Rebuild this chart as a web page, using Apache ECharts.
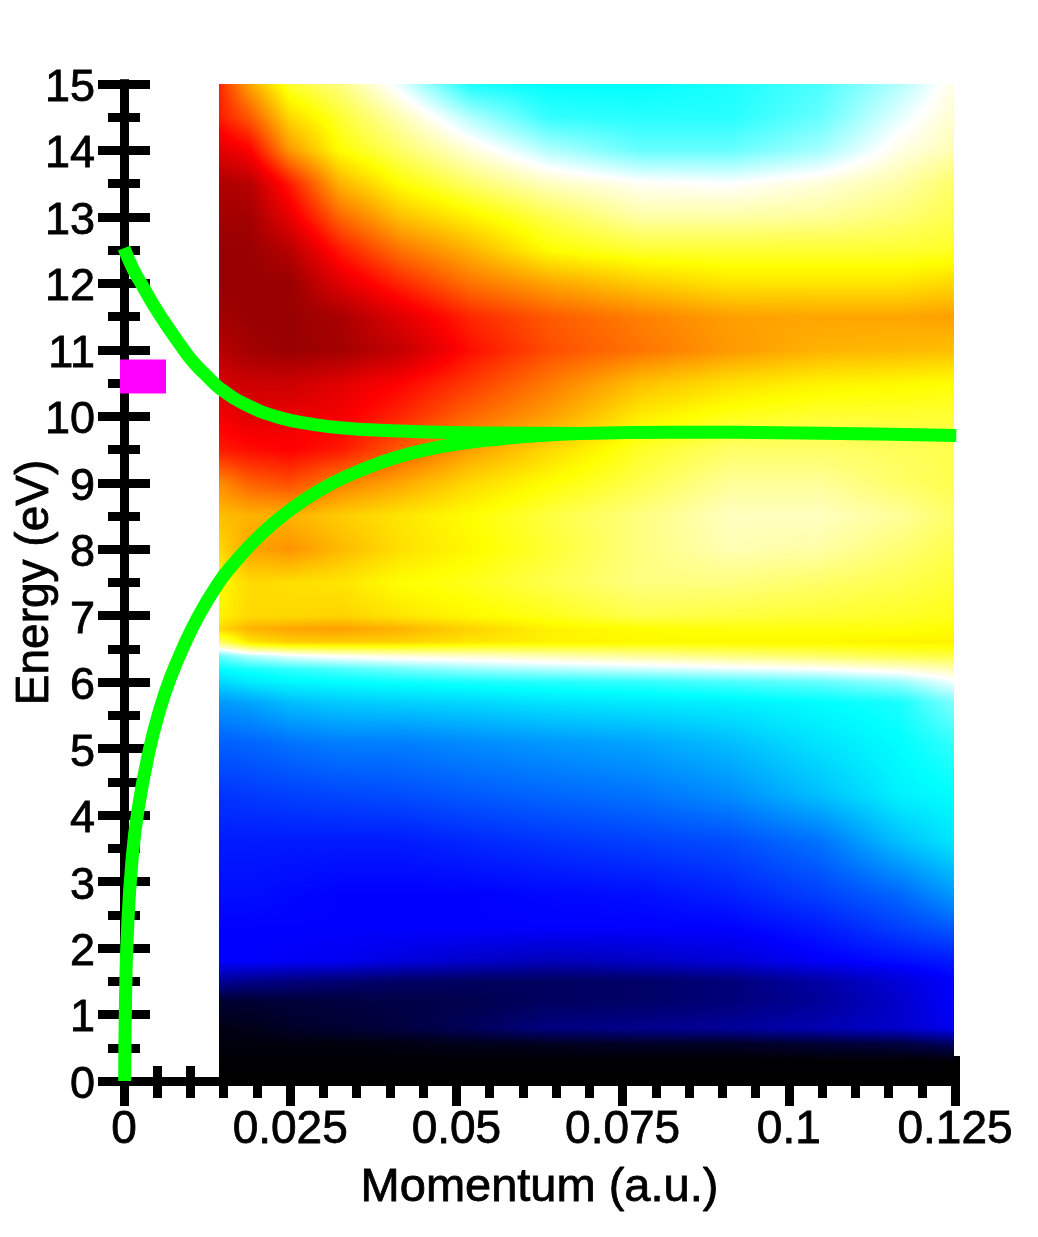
<!DOCTYPE html>
<html>
<head>
<meta charset="utf-8">
<style>html,body{margin:0;padding:0;background:#fff}#c{width:1038px;height:1237px}</style>
<script src="https://cdn.jsdelivr.net/npm/echarts@6/dist/echarts.min.js"></script>
</head>
<body>
<div id="c"></div>
<script>
// Momentum (a.u.) of the intensity columns
var momentumNodes = [0.0143,0.019,0.025,0.0325,0.0415,0.052,0.064,0.0776,0.0912,0.1047,0.1167,0.1249];
// Energy (eV) of the intensity rows, top to bottom
var energyNodes = [15,14.5,14,13.5,13,12.5,12,11.5,11,10.5,10,9.5,9,8.5,8,7.5,7,6.8,6.6,6.4,6.2,6,5.7,5.1,4.3,3.6,2.8,2.3,1.8,1.5,1.2,0.8,0.55,0.3,0,-0.07];
// Intensity, position on the colour scale 0-90
var intensityRows = [
[77,67,58,55,49,41,40,40,41,43,47,51],
[78,73,63,58,53,47,42,41.5,41.5,44,49,52],
[83,80,68,60,56,51.5,47,44,44,46.5,51,53],
[88,87,78,66,60,56,52.5,50.5,50,51.5,53.5,56],
[89,89,82,72,65,61,57,53.5,53.5,54,55.5,57],
[90,90,87,78,71,66,60,58,58,58,58,58.5],
[90,90,90,83,77,71,67,64,62,62,62,63],
[89,90,90,88.5,83,77,73,70,67.5,67,67,67.5],
[87,89,90,89,86,79,74,71,68,66,65.5,65],
[84,85,85,83,80,75.5,70.5,65,62.5,61,60.5,60],
[81,83,82,81,77,72,67.5,61.5,59,58,58,58],
[78,79,80,78,73,67.5,63,58.5,56,56,56.5,57],
[69,72.5,74,70,67,63,60,57,54,54,56,57],
[65,66,66,64,62,60,57.5,55,52.5,52.5,54,56],
[63,67,68.5,65.5,62.5,60.5,58,55,53,53.5,55.5,57],
[60,63,62.5,62,60,59,57,55,55,56,57,58],
[61,63,63,63.5,62,60.5,59,57,57.5,58,58.5,59],
[63,66,67,67.5,66,63.5,61,60,59.5,59.5,59.5,60],
[56,62,64,64,63.5,62,61,60.5,60.5,60.5,61,61],
[44,47,49,50.5,51.5,52,53,54,55,56,57,57.5],
[40,41,42,43,44.5,46,47,48,49,50,51.5,53],
[37,38.5,39.5,40,40.5,41,41.5,42,43,44,46,49.5],
[32,33,35,36,36.5,37,38,38.5,39,40,41,45],
[27.5,28,29,30,30,31,32,33,35,38,40,42],
[24,24.5,25,25.5,26,27,28,29,31,35,39,40],
[22,22,22,22,22,23,24,25,26,29,35,38],
[21,21,20.5,20,20,20,20.5,21,22.5,25,28,32],
[20,20,20,20,20,20,20,20,20,22,25,27],
[20,20,19.5,19,17.5,16,14.5,15.5,17,19.5,21,22],
[12,11,10,9,8,7.5,7.5,8,9.5,13,17,20],
[4,4,4.5,5,5.5,6,7.5,8,9.5,12,16,20],
[1.5,2,3,4,5,7,10,11,12,14,16,19],
[1,1,1,1,1.5,2,2.5,3,3,4,5,7.5],
[0.3,0.3,0.3,0.3,0.3,0.3,0.3,0.3,0.3,0.3,0.3,0.3],
[0,0,0,0,0,0,0,0,0,0,0,0],
[0,0,0,0,0,0,0,0,0,0,0,0]
];
// Colour scale: stop position and colour
var scaleStops = [0,20,40,50,60,80,90];
var scaleColors = [[0,0,0],[0,0,255],[0,255,255],[255,255,255],[255,255,0],[255,0,0],[153,0,0]];
// Dispersion branches, [momentum, energy]
var lowerBranch = [[0.0001,0],[0.00023,1.22],[0.00053,2.27],[0.0012,3.32],[0.00211,4.08],[0.00376,4.96],[0.00542,5.6],[0.00692,6.05],[0.00902,6.55],[0.01128,7.01],[0.01414,7.48],[0.01594,7.72],[0.02046,8.21],[0.02497,8.59],[0.02948,8.89],[0.034,9.12],[0.03851,9.3],[0.04302,9.44],[0.04753,9.54],[0.05205,9.61],[0.05656,9.66],[0.06107,9.7],[0.06859,9.74],[0.08258,9.76],[0.1017,9.75],[0.1252,9.71]];
var upperBranch = [[0,12.53],[0.00135,12.22],[0.00286,11.95],[0.00466,11.64],[0.00647,11.36],[0.00842,11.08],[0.01038,10.82],[0.01233,10.62],[0.01444,10.42],[0.0185,10.17],[0.02347,9.98],[0.02843,9.88],[0.03354,9.82],[0.03851,9.79],[0.04347,9.77],[0.05355,9.75],[0.06859,9.74]];
// Single marker
var markerPoint = [[0.00286,10.6]];

var FONT = '"Liberation Sans", Arial, sans-serif';

function colourAt(v){
  var n = scaleStops.length;
  if (v <= scaleStops[0]) return scaleColors[0];
  for (var i = 1; i < n; i++) {
    if (v <= scaleStops[i]) {
      var t = (v - scaleStops[i-1]) / (scaleStops[i] - scaleStops[i-1]);
      var a = scaleColors[i-1], b = scaleColors[i];
      return [a[0]+(b[0]-a[0])*t, a[1]+(b[1]-a[1])*t, a[2]+(b[2]-a[2])*t];
    }
  }
  return scaleColors[n-1];
}

// One item per cell: x0,y0,x1,y1 and the four corner intensities
var cells = [];
for (var r = 0; r < energyNodes.length - 1; r++) {
  for (var c = 0; c < momentumNodes.length - 1; c++) {
    cells.push([momentumNodes[c], energyNodes[r], momentumNodes[c+1], energyNodes[r+1],
      intensityRows[r][c], intensityRows[r][c+1], intensityRows[r+1][c], intensityRows[r+1][c+1]]);
  }
}

function renderCell(params, api){
  var p0 = api.coord([api.value(0), api.value(1)]);
  var p1 = api.coord([api.value(2), api.value(3)]);
  var x0 = Math.round(p0[0]), y0 = Math.round(p0[1]), x1 = Math.round(p1[0]), y1 = Math.round(p1[1]);
  var w = x1 - x0, h = y1 - y0;
  if (w <= 0 || h <= 0) return null;
  var a = api.value(4), b = api.value(5), d = api.value(6), e = api.value(7);
  var cv = document.createElement('canvas');
  cv.width = w; cv.height = h;
  var ctx = cv.getContext('2d');
  var img = ctx.createImageData(w, h);
  for (var j = 0; j < h; j++) {
    var ty = (j + 0.5) / h;
    for (var i = 0; i < w; i++) {
      var tx = (i + 0.5) / w;
      var v = (a*(1-tx)+b*tx)*(1-ty) + (d*(1-tx)+e*tx)*ty;
      var col = colourAt(v), k = (j*w+i)*4;
      img.data[k] = col[0]; img.data[k+1] = col[1]; img.data[k+2] = col[2]; img.data[k+3] = 255;
    }
  }
  ctx.putImageData(img, 0, 0);
  return {type:'image', silent:true, style:{image:cv, x:x0, y:y0, width:w, height:h}};
}

var AXW = 9;
var TEXT_EDGE = {textBorderColor:'#000', textBorderWidth:0.8};
function xAxisOf(inside, visibleLabels, tickLen, minorLen){
  return {
    type:'value', min:0, max:0.125, interval:0.025, position:'bottom',
    name: visibleLabels ? 'Momentum (a.u.)' : '', nameLocation:'middle', nameGap:84, nameMoveOverlap:false,
    nameTextStyle:Object.assign({fontFamily:FONT,fontSize:47,color:'#000'},TEXT_EDGE),
    axisLine:{show:true,onZero:false,lineStyle:{color:'#000',width:AXW,cap:'square'}},
    axisTick:{show:true,inside:inside,length:tickLen,lineStyle:{color:'#000',width:AXW}},
    minorTick:{show:true,splitNumber:5,length:minorLen,lineStyle:{color:'#000',width:AXW}},
    axisLabel:Object.assign({show:visibleLabels,margin:26,fontFamily:FONT,fontSize:46,color:'#000',showMinLabel:true,showMaxLabel:true,hideOverlap:false},TEXT_EDGE),
    splitLine:{show:false},minorSplitLine:{show:false}
  };
}
function yAxisOf(inside, visibleLabels, tickLen, minorLen){
  return {
    type:'value', min:0, max:15, interval:1, position:'left',
    name: visibleLabels ? 'Energy (eV)' : '', nameLocation:'middle', nameGap:66, nameMoveOverlap:false,
    nameTextStyle:Object.assign({fontFamily:FONT,fontSize:46,color:'#000'},TEXT_EDGE),
    axisLine:{show:true,onZero:false,lineStyle:{color:'#000',width:AXW,cap:'square'}},
    axisTick:{show:true,inside:inside,length:tickLen,lineStyle:{color:'#000',width:AXW}},
    minorTick:{show:true,splitNumber:2,length:minorLen,lineStyle:{color:'#000',width:AXW}},
    axisLabel:{show:visibleLabels,margin:29,formatter:'{t|{value}}',hideOverlap:false,showMinLabel:true,showMaxLabel:true,
      rich:{t:Object.assign({fontFamily:FONT,fontSize:45,color:'#000',padding:[9,0,0,0]},TEXT_EDGE)}},
    splitLine:{show:false},minorSplitLine:{show:false}
  };
}

var chart = echarts.init(document.getElementById('c'), null, {renderer:'canvas'});
chart.setOption({
  animation:false,
  backgroundColor:'#fff',
  grid:{left:124,top:84,width:831,height:997,containLabel:false,outerBoundsMode:'none'},
  xAxis:[xAxisOf(false,true,25,17), xAxisOf(true,false,25,15)],
  yAxis:[yAxisOf(false,true,26,16), yAxisOf(true,false,26,16)],
  series:[
    {type:'custom', name:'Intensity', coordinateSystem:'cartesian2d', data:cells,
     encode:{x:[0,2],y:[1,3]}, renderItem:renderCell, clip:false, z:3, silent:true},
    {type:'scatter', name:'Marker', data:markerPoint, symbol:'rect', symbolSize:[46,34],
     itemStyle:{color:'#ff00ff',opacity:1}, clip:false, z:4, silent:true},
    {type:'line', name:'Lower branch', data:lowerBranch, smooth:0.5, showSymbol:false, clip:false,
     lineStyle:{color:'#00ff00',width:13,cap:'butt'}, z:5, silent:true},
    {type:'line', name:'Upper branch', data:upperBranch, smooth:0.5, showSymbol:false, clip:false,
     lineStyle:{color:'#00ff00',width:13,cap:'butt'}, z:5, silent:true}
  ]
});
</script>
</body>
</html>
